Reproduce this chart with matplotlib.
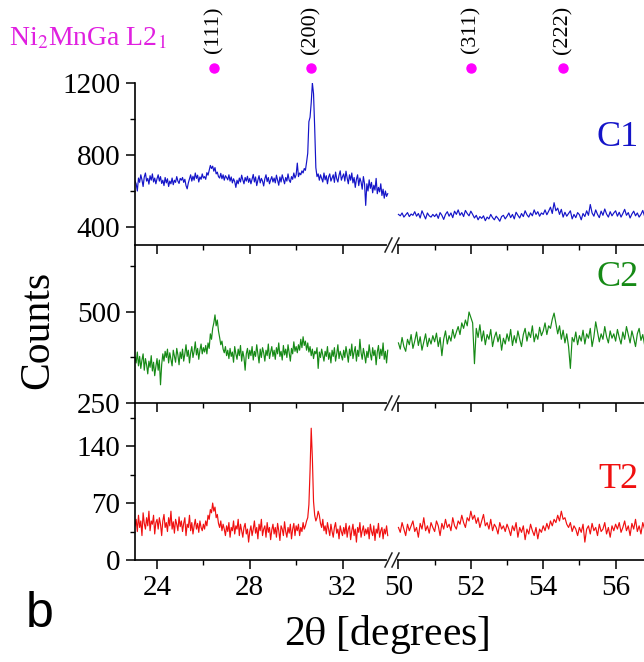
import numpy as np
import matplotlib.pyplot as plt
from matplotlib.lines import Line2D

plt.rcParams['font.family'] = 'Liberation Serif'
plt.rcParams['mathtext.fontset'] = 'stix'

# XRD scans, 0.05 deg step; left window starts at 23.05, right window at 50.00
step = 0.05
start_left = 23.05
start_right = 50.0

c1_left = [
    655, 640, 600, 672, 648, 690, 662, 625, 678, 700, 655, 670, 638, 685, 660, 695, 650, 672, 640, 668,
    690, 655, 680, 642, 660, 630, 675, 645, 668, 625, 655, 640, 672, 635, 660, 648, 680, 655, 642, 670,
    660, 675, 648, 665, 630, 612, 645, 668, 690, 655, 682, 660, 700, 670, 688, 650, 678, 665, 695, 672,
    680, 665, 702, 688, 715, 742, 725, 738, 710, 730, 695, 705, 680, 672, 698, 668, 690, 660, 685, 675,
    662, 690, 655, 678, 645, 668, 652, 620, 660, 640, 672, 650, 688, 662, 640, 675, 655, 682, 648, 670,
    640, 665, 692, 650, 678, 630, 660, 685, 645, 670, 655, 628, 668, 690, 652, 675, 640, 662, 680, 650,
    672, 645, 688, 660, 632, 678, 650, 690, 665, 640, 675, 655, 695, 660, 648, 680, 665, 700, 672, 690,
    755, 680, 700, 690, 712, 700, 725, 715, 760, 810, 985, 1010, 1090, 1200, 1140, 950, 730, 680, 695, 660,
    690, 670, 650, 700, 662, 685, 640, 678, 695, 655, 672, 690, 648, 705, 668, 650, 688, 712, 660, 680,
    695, 655, 710, 672, 640, 690, 660, 700, 645, 675, 620, 665, 690, 630, 672, 650, 610, 680, 640, 520,
    640, 600, 662, 615, 648, 590, 632, 605, 670, 585, 620, 595, 640, 575, 610, 560, 600, 570, 585,
]
c1_right = [
    470, 462, 478, 455, 468, 480, 458, 472, 465, 485, 460, 475, 450, 490, 468, 445, 478, 462, 455, 470,
    458, 472, 448, 480, 465, 442, 470, 485, 460, 478, 452, 488, 470, 495, 465, 480, 458, 492, 475, 462,
    488, 470, 450, 465, 440, 458, 448, 462, 435, 455, 445, 470, 452, 440, 460, 448, 432, 458, 465, 445,
    460, 478, 452, 470, 445, 482, 465, 450, 475, 458, 490, 468, 455, 478, 462, 495, 470, 485, 460, 478,
    470, 495, 468, 488, 510, 475, 535, 490, 505, 470, 498, 455, 482, 460, 475, 490, 445, 470, 452, 480,
    468, 440, 475, 458, 490, 465, 525, 478, 460, 495, 470, 452, 488, 465, 500, 472, 455, 485, 462, 478,
    490, 460, 482, 455, 475, 498, 465, 480, 450, 472, 488, 462, 478, 455, 470, 492, 460, 475, 468, 480,
]

c2_left = [
    375, 360, 390, 352, 378, 345, 368, 385, 340, 372, 355, 330, 365, 348, 380, 338, 362, 325, 350, 372,
    340, 368, 300, 355, 385, 365, 392, 375, 398, 360, 388, 370, 352, 395, 378, 362, 400, 382, 355, 390,
    372, 398, 365, 385, 410, 378, 395, 360, 388, 405, 375, 392, 418, 382, 400, 370, 395, 412, 385, 402,
    390, 408, 385, 415, 400, 440, 425, 455, 470, 492, 462, 478, 448, 430, 410, 420, 398, 388, 405, 380,
    395, 372, 400, 378, 390, 362, 405, 385, 370, 398, 380, 408, 365, 392, 375, 340, 385, 400, 372, 395,
    380, 405, 368, 392, 378, 410, 385, 360, 398, 375, 402, 388, 365, 395, 380, 412, 372, 390, 405, 378,
    395, 370, 402, 385, 415, 378, 392, 368, 408, 382, 398, 375, 410, 388, 365, 400, 385, 418, 392, 405,
    388, 410, 395, 425, 402, 432, 408, 420, 395, 415, 390, 405, 380, 398, 372, 392, 385, 402, 345, 390,
    375, 398, 382, 365, 392, 378, 405, 370, 388, 360, 395, 378, 402, 365, 385, 410, 372, 392, 380, 368,
    395, 375, 405, 385, 362, 398, 380, 412, 372, 390, 405, 365, 395, 378, 425, 388, 370, 400, 382, 360,
    392, 375, 410, 385, 368, 402, 380, 395, 355, 390, 408, 372, 398, 380, 415, 370, 392, 360, 395,
]
c2_right = [
    415, 398, 430, 405, 392, 425, 410, 438, 400, 420, 445, 408, 432, 395, 418, 440, 405, 428, 412, 435,
    418, 442, 405, 430, 380, 425, 448, 412, 435, 420, 452, 428, 445, 460, 438, 470, 455, 478, 462, 500,
    485, 470, 358, 455, 430, 465, 420, 448, 410, 438, 425, 452, 405, 430, 445, 418, 438, 395, 428, 412,
    440, 420, 452, 408, 435, 415, 448, 425, 405, 438, 455, 420, 445, 430, 462, 418, 440, 425, 458, 435,
    448, 470, 438, 462, 455, 480, 497, 468, 440, 462, 425, 450, 415, 440, 405, 345, 430, 418, 445, 410,
    435, 420, 450, 412, 440, 428, 455, 405, 432, 473, 445, 418, 440, 425, 460, 432, 415, 448, 428, 440,
    420, 452, 430, 412, 445, 425, 460, 438, 415, 448, 428, 405, 440, 455, 422, 438, 410, 445, 430, 418,
]

t2_left = [
    42, 50, 35, 55, 40, 48, 30, 58, 45, 38, 52, 42, 60, 36, 48, 44, 55, 32, 46, 50,
    38, 52, 44, 30, 48, 56, 40, 46, 35, 52, 42, 60, 38, 47, 33, 50, 44, 36, 53, 41,
    48, 35, 45, 52, 30, 44, 40, 55, 36, 46, 32, 42, 50, 38, 45, 34, 48, 40, 36, 44,
    38, 48, 42, 55, 50, 62, 58, 70, 60, 65, 52, 56, 45, 40, 48, 36, 44, 38, 30, 42,
    35, 46, 28, 40, 36, 48, 32, 42, 38, 50, 30, 44, 36, 28, 40, 45, 32, 38, 22, 35,
    42, 30, 38, 48, 33, 40, 26, 44, 36, 50, 30, 38, 42, 28, 46, 34, 40, 25, 37, 44,
    32, 40, 28, 45, 36, 24, 42, 38, 30, 47, 35, 28, 40, 33, 44, 26, 38, 45, 30, 42,
    36, 44, 30, 40, 35, 46, 38, 42, 48, 52, 68, 110, 162, 125, 72, 55, 48, 52, 60, 55,
    45, 40, 50, 36, 42, 32, 46, 38, 30, 44, 35, 28, 40, 46, 33, 38, 26, 42, 35, 30,
    40, 32, 45, 28, 38, 42, 25, 36, 44, 30, 38, 22, 40, 34, 46, 28, 36, 42, 30, 38,
    32, 40, 26, 44, 35, 30, 42, 24, 38, 33, 45, 28, 36, 40, 26, 38, 32, 42, 30,
]
t2_right = [
    40, 34, 46, 38, 30, 44, 36, 42, 48, 35, 40, 28, 45, 38, 52, 36, 42, 33, 46, 40,
    35, 48, 42, 30, 45, 38, 50, 40, 44, 36, 52, 42, 38, 48, 44, 55, 46, 40, 52, 48,
    60, 50, 55, 45, 52, 40, 48, 56, 42, 46, 38, 50, 36, 44, 40, 32, 46, 38, 42, 35,
    44, 38, 30, 42, 36, 46, 28, 40, 34, 42, 25, 38, 32, 44, 36, 30, 40, 26, 38, 34,
    42, 36, 45, 38, 48, 42, 50, 46, 55, 48, 60, 50, 52, 44, 40, 46, 35, 42, 38, 30,
    40, 34, 44, 22, 38, 42, 32, 45, 36, 40, 30, 44, 35, 38, 46, 32, 40, 28, 42, 36,
    44, 38, 46, 34, 40, 48, 36, 42, 30, 45, 38, 50, 35, 42, 32, 46, 38, 40, 34, 44,
]

sample_names = ['C1', 'C2', 'T2']
sample_colors = ['#1414c8', '#168a16', '#f01010']
ylims = [(300, 1200), (250, 684), (0, 193)]
yticks_major = [[400, 800, 1200], [250, 500], [0, 70, 140]]
yticks_minor = [[600, 1000], [375, 625], [35, 105, 175]]

# Ni2MnGa L2_1 reflections (Cu K-alpha)
hkl_labels = ['(111)', '(200)', '(311)', '(222)']
hkl_pos = [26.47, 30.65, 52.0, 54.55]

W, H = 644, 662
fig = plt.figure(figsize=(W / 100, H / 100), dpi=100)

left_px = (135, 397)
right_px = (397, 688)
rows_px = [(83, 245), (245, 403), (403, 560)]
xlim_left = (23.05, 34.35)
xlim_right = (49.96, 58.0)


def rect(xpx, ypx):
    return [xpx[0] / W, 1 - ypx[1] / H, (xpx[1] - xpx[0]) / W, (ypx[1] - ypx[0]) / H]


data = [(c1_left, c1_right), (c2_left, c2_right), (t2_left, t2_right)]
axes = []
for r, (yl, yr) in enumerate(data):
    axL = fig.add_axes(rect(left_px, rows_px[r]))
    axR = fig.add_axes(rect(right_px, rows_px[r]))
    xl = start_left + step * np.arange(len(yl))
    xr = start_right + step * np.arange(len(yr))
    axL.plot(xl, yl, color=sample_colors[r], lw=0.85)
    axR.plot(xr, yr, color=sample_colors[r], lw=0.85)

    for ax in (axL, axR):
        ax.set_ylim(*ylims[r])
        ax.patch.set_alpha(0)
        for s in ('top', 'right'):
            ax.spines[s].set_visible(False)
        ax.spines['bottom'].set_linewidth(1.2)
        ax.spines['left'].set_linewidth(1.2)
        ax.tick_params(which='major', direction='out', length=6.5, width=1.1,
                       labelsize=21, pad=4)
        ax.tick_params(which='minor', direction='out', length=3.5, width=1.0)
        ax.tick_params(axis='x', labelbottom=(r == 2))

    axL.set_xlim(*xlim_left)
    axL.set_xticks([24, 28, 32])
    axL.set_xticks([26, 30], minor=True)
    axL.set_yticks(yticks_major[r])
    axL.set_yticks(yticks_minor[r], minor=True)

    axR.set_xlim(*xlim_right)
    axR.set_xticks([50, 52, 54, 56])
    axR.set_xticks([51, 53, 55, 57], minor=True)
    axR.spines['left'].set_visible(False)
    axR.set_yticks([])
    axR.set_yticks([], minor=True)

    axes.append((axL, axR))

# reflection markers above the top panel
top_ax = axes[0]
for lab, pos in zip(hkl_labels, hkl_pos):
    ax = top_ax[0] if pos < 40 else top_ax[1]
    tr = ax.get_xaxis_transform()
    ax.plot([pos], [1.093], 'o', color='#ff00ff', ms=6.5, transform=tr, clip_on=False)
    ax.text(pos, 1.33, lab, rotation=90, ha='center', va='center', fontsize=16,
            transform=tr, clip_on=False)

fig.text(9 / W, 1 - 45 / H, r'Ni$_2$MnGa L2$_1$', color='#e020e0', fontsize=20,
         ha='left', va='baseline')

label_y = [138, 277, 479]
for name, col, py in zip(sample_names, sample_colors, label_y):
    fig.text(618 / W, 1 - py / H, name, color=col, fontsize=26, ha='center', va='center')

fig.text(38 / W, 1 - 330 / H, 'Counts', rotation=90, fontsize=30, ha='center', va='center')
fig.text(387 / W, 1 - 634 / H, r'2$\mathrm{\theta}$ [degrees]', fontsize=30,
         ha='center', va='center')
fig.text(40 / W, 1 - 614 / H, 'b', family='Liberation Sans', fontsize=36,
         ha='center', va='center')

# axis break marks
for ypx in (245, 403, 560):
    y0, y1 = 1 - (ypx + 7) / H, 1 - (ypx - 7) / H
    fig.add_artist(Line2D([389 / W, 395 / W], [1 - ypx / H] * 2, color='white', lw=3))
    for x0 in (385, 392):
        fig.add_artist(Line2D([x0 / W, (x0 + 7) / W], [y0, y1], color='#222222', lw=1.1))

fig.savefig('out.png', dpi=100)
